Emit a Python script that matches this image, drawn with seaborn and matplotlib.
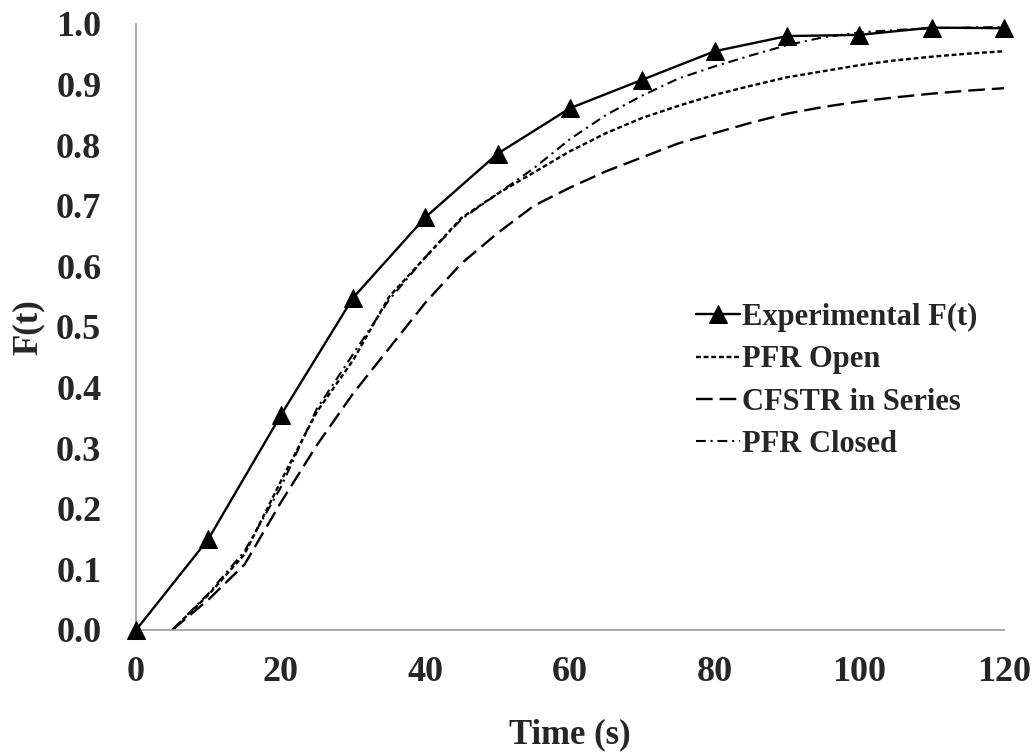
import matplotlib
matplotlib.use("Agg")
import matplotlib.pyplot as plt
from matplotlib.ticker import MultipleLocator, FormatStrFormatter
import numpy as np
import pandas as pd
import seaborn as sns

# Experimental cumulative residence-time distribution
t_exp = [0, 10, 20, 30, 40, 50, 60, 70, 80, 90, 100, 110, 120]
f_exp = [0.0, 0.150, 0.354, 0.548, 0.681, 0.786, 0.861, 0.908, 0.955,
         0.980, 0.982, 0.994, 0.993]

# Model predictions, evaluated every 5 s
t_model = [5, 10, 15, 20, 25, 30, 35, 40, 45, 50, 55, 60, 65, 70, 75, 80,
           85, 90, 95, 100, 105, 110, 115, 120]
f_pfr_open = [0.0, 0.058, 0.125, 0.245, 0.360, 0.445, 0.550, 0.615, 0.680,
              0.720, 0.755, 0.790, 0.820, 0.845, 0.865, 0.883, 0.898, 0.912,
              0.922, 0.932, 0.940, 0.946, 0.951, 0.955]
f_cfstr = [0.0, 0.050, 0.108, 0.210, 0.305, 0.390, 0.465, 0.540, 0.605,
           0.655, 0.700, 0.730, 0.757, 0.780, 0.803, 0.820, 0.837, 0.852,
           0.863, 0.872, 0.879, 0.885, 0.890, 0.894]
f_pfr_closed = [0.0, 0.060, 0.130, 0.235, 0.365, 0.455, 0.545, 0.615, 0.678,
                0.720, 0.762, 0.810, 0.850, 0.882, 0.910, 0.930, 0.948, 0.965,
                0.978, 0.986, 0.990, 0.993, 0.994, 0.995]

labels = ["Experimental F(t)", "PFR Open", "CFSTR in Series", "PFR Closed"]

sns.set_theme(style="white")
plt.rcParams["font.family"] = ["Liberation Serif", "DejaVu Serif"]
plt.rcParams["font.weight"] = "bold"
plt.rcParams["lines.scale_dashes"] = False

fig = plt.figure(figsize=(10.36, 7.56), dpi=100)
ax = fig.add_axes([0.1313, 0.1667, 0.8378, 0.8016])

exp_df = pd.DataFrame({"t": t_exp, "F": f_exp})
model_df = pd.DataFrame({"t": t_model, "open": f_pfr_open,
                         "cfstr": f_cfstr, "closed": f_pfr_closed})

sns.lineplot(data=exp_df, x="t", y="F", ax=ax, color="black", lw=1.7,
             marker="^", markersize=13, markeredgecolor="black",
             clip_on=False, zorder=5, legend=False)
sns.lineplot(data=model_df, x="t", y="open", ax=ax, color="black", lw=1.7,
             linestyle=(0, (3.5, 2.0)), legend=False)
sns.lineplot(data=model_df, x="t", y="cfstr", ax=ax, color="black", lw=1.7,
             linestyle=(0, (12, 5)), legend=False)
sns.lineplot(data=model_df, x="t", y="closed", ax=ax, color="black", lw=1.5,
             linestyle=(0, (7, 3.5, 1.5, 3.5)), legend=False)

ax.set_xlim(0, 120)
ax.set_ylim(0, 1.0)

# Axes styling: grey left/bottom spines only
for side in ["top", "right"]:
    ax.spines[side].set_visible(False)
for side in ["left", "bottom"]:
    ax.spines[side].set_color("#A0A0A0")
    ax.spines[side].set_linewidth(1.3)

ax.xaxis.set_major_locator(MultipleLocator(20))
ax.xaxis.set_minor_locator(MultipleLocator(5))
ax.yaxis.set_major_locator(MultipleLocator(0.1))
ax.yaxis.set_minor_locator(MultipleLocator(0.05))
ax.yaxis.set_major_formatter(FormatStrFormatter("%.1f"))

ax.tick_params(axis="both", which="major", direction="inout", length=14,
               width=1.0, color="#A0A0A0", labelsize=26)
ax.tick_params(axis="x", which="minor", direction="in", length=5,
               width=1.0, color="#A0A0A0")
ax.tick_params(axis="y", which="minor", direction="in", length=7,
               width=1.0, color="#A0A0A0")
ax.tick_params(axis="x", which="major", pad=12)
ax.tick_params(axis="y", which="major", pad=18)
for lab in ax.get_xticklabels() + ax.get_yticklabels():
    lab.set_fontweight("bold")

ax.set_xlabel("Time (s)", fontsize=25, fontweight="bold", labelpad=21)
ax.set_ylabel("F(t)", fontsize=25, fontweight="bold", labelpad=8)

handles = ax.get_lines()[:4]
ax.legend(handles, labels, loc="upper left", bbox_to_anchor=(0.645, 0.54),
          frameon=False, handlelength=1.45, handletextpad=0.05,
          labelspacing=0.44, borderpad=0, borderaxespad=0,
          prop={"family": "Liberation Serif", "weight": "bold", "size": 22})

fig.savefig("out.png", dpi=100)
